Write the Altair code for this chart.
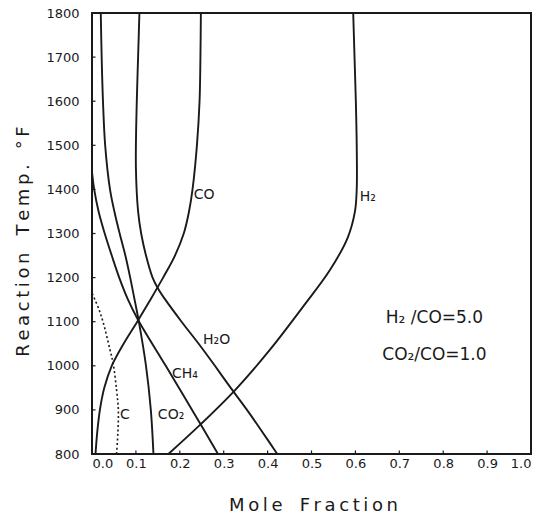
import altair as alt
import pandas as pd

# Equilibrium composition vs. reaction temperature (H2/CO = 5.0, CO2/CO = 1.0)
h2_temp = [800, 866, 945, 1036, 1133, 1217, 1292, 1350, 1400, 1500, 1600, 1700, 1800]
h2_frac = [0.174, 0.246, 0.326, 0.405, 0.480, 0.542, 0.583, 0.599, 0.603, 0.603, 0.601, 0.598, 0.595]

co_temp = [800, 850, 900, 950, 1000, 1050, 1100, 1150, 1200, 1250, 1300, 1350, 1400, 1500, 1600, 1700, 1800]
co_frac = [0.008, 0.012, 0.018, 0.028, 0.045, 0.072, 0.103, 0.133, 0.162, 0.189, 0.209, 0.221, 0.229, 0.239, 0.245, 0.247, 0.248]

h2o_temp = [800, 850, 900, 950, 1000, 1050, 1100, 1150, 1176, 1200, 1250, 1300, 1350, 1450, 1600, 1700, 1800]
h2o_frac = [0.422, 0.388, 0.353, 0.316, 0.280, 0.243, 0.204, 0.167, 0.150, 0.138, 0.123, 0.112, 0.105, 0.100, 0.102, 0.105, 0.108]

ch4_temp = [800, 900, 1000, 1104, 1150, 1200, 1250, 1300, 1350, 1400, 1440]
ch4_frac = [0.287, 0.228, 0.168, 0.105, 0.082, 0.062, 0.045, 0.029, 0.015, 0.005, 0.0]

co2_temp = [800, 900, 1000, 1104, 1150, 1200, 1250, 1300, 1350, 1400, 1500, 1600, 1700, 1800]
co2_frac = [0.140, 0.134, 0.123, 0.106, 0.097, 0.087, 0.076, 0.063, 0.051, 0.041, 0.030, 0.025, 0.022, 0.020]

c_temp = [800, 850, 900, 945, 1006, 1036, 1100, 1130, 1165]
c_frac = [0.056, 0.059, 0.060, 0.056, 0.048, 0.041, 0.025, 0.015, 0.0]

# Curve labels
label_text = ["H\u2082", "CO", "H\u2082O", "CH\u2084", "CO\u2082", "C"]
label_frac = [0.610, 0.232, 0.253, 0.182, 0.150, 0.064]
label_temp = [1383, 1387, 1059, 981, 888, 888]

# Feed ratio notes
note_text = ["H\u2082 /CO=5.0", "CO\u2082/CO=1.0"]
note_frac = [0.78, 0.78]
note_temp = [1108, 1025]

x_ticks = [round(0.1 * i, 1) for i in range(11)]
y_ticks = list(range(800, 1801, 100))


def curve(name, temps, fracs):
    return pd.DataFrame({"species": name, "temp": temps, "frac": fracs,
                         "seq": list(range(len(temps)))})


solid = pd.concat([
    curve("H2", h2_temp, h2_frac),
    curve("CO", co_temp, co_frac),
    curve("H2O", h2o_temp, h2o_frac),
    curve("CH4", ch4_temp, ch4_frac),
    curve("CO2", co2_temp, co2_frac),
], ignore_index=True)
carbon = curve("C", c_temp, c_frac)

labels = pd.DataFrame({"text": label_text, "frac": label_frac, "temp": label_temp})
notes = pd.DataFrame({"text": note_text, "frac": note_frac, "temp": note_temp})

FONT = "DejaVu Sans"
INK = "#1a1a1a"

xs = alt.Scale(domain=[0, 1], nice=False, zero=False)
ys = alt.Scale(domain=[800, 1800], nice=False, zero=False)

x_title = "M\u2009o\u2009l\u2009e\u00a0\u00a0\u00a0F\u2009r\u2009a\u2009c\u2009t\u2009i\u2009o\u2009n"
y_title = "R\u2009e\u2009a\u2009c\u2009t\u2009i\u2009o\u2009n\u00a0\u00a0\u00a0T\u2009e\u2009m\u2009p\u2009.\u00a0\u00a0\u2009\u00b0\u2009F"

x_axis = alt.Axis(values=x_ticks, format=".1f", ticks=False, domain=False, grid=False,
                  labelFont=FONT, labelFontSize=13, labelColor=INK, labelPadding=3,
                  title=x_title, titleFont=FONT, titleFontSize=18, titleFontWeight="normal",
                  titleColor=INK, titleX=221, titleY=51, titleBaseline="middle")
y_axis = alt.Axis(values=y_ticks, format="d", ticks=False, domain=False, grid=False,
                  labelFont=FONT, labelFontSize=13, labelColor=INK, labelPadding=13,
                  title=y_title, titleFont=FONT, titleFontSize=18, titleFontWeight="normal",
                  titleColor=INK, titleX=-69, titleY=228, titleAngle=-90,
                  titleAlign="center", titleBaseline="middle")

lines = alt.Chart(solid).mark_line(color=INK, strokeWidth=1.9, interpolate="catmull-rom").encode(
    x=alt.X("frac:Q", scale=xs, axis=x_axis),
    y=alt.Y("temp:Q", scale=ys, axis=y_axis),
    detail="species:N",
    order="seq:Q",
)

dotted = alt.Chart(carbon).mark_line(color=INK, strokeWidth=1.6, strokeDash=[2, 2.5],
                                      interpolate="catmull-rom").encode(
    x=alt.X("frac:Q", scale=xs),
    y=alt.Y("temp:Q", scale=ys),
    order="seq:Q",
)

# Small inward tick marks along the bottom and left edges
xt = pd.DataFrame({"frac": x_ticks[1:-1], "lo": 800, "hi": 808})
yt = pd.DataFrame({"temp": y_ticks[1:-1], "lo": 0.0, "hi": 0.008})
x_marks = alt.Chart(xt).mark_rule(color=INK, strokeWidth=1.2).encode(
    x=alt.X("frac:Q", scale=xs), y=alt.Y("lo:Q", scale=ys), y2="hi:Q")
y_marks = alt.Chart(yt).mark_rule(color=INK, strokeWidth=1.2).encode(
    y=alt.Y("temp:Q", scale=ys), x=alt.X("lo:Q", scale=xs), x2="hi:Q")

curve_labels = alt.Chart(labels).mark_text(font=FONT, fontSize=14, color=INK,
                                           align="left", baseline="middle").encode(
    x=alt.X("frac:Q", scale=xs), y=alt.Y("temp:Q", scale=ys), text="text:N")

note_labels = alt.Chart(notes).mark_text(font=FONT, fontSize=17, color=INK,
                                         align="center", baseline="middle").encode(
    x=alt.X("frac:Q", scale=xs), y=alt.Y("temp:Q", scale=ys), text="text:N")

chart = alt.layer(lines, dotted, x_marks, y_marks, curve_labels, note_labels).properties(
    width=439, height=441,
    autosize=alt.AutoSizeParams(type="none"),
    padding={"left": 92, "top": 13, "right": 25, "bottom": 64},
    background="white",
).configure_view(stroke=INK, strokeWidth=2)

chart.save("out.html", embed_options={"renderer": "svg", "actions": False})
